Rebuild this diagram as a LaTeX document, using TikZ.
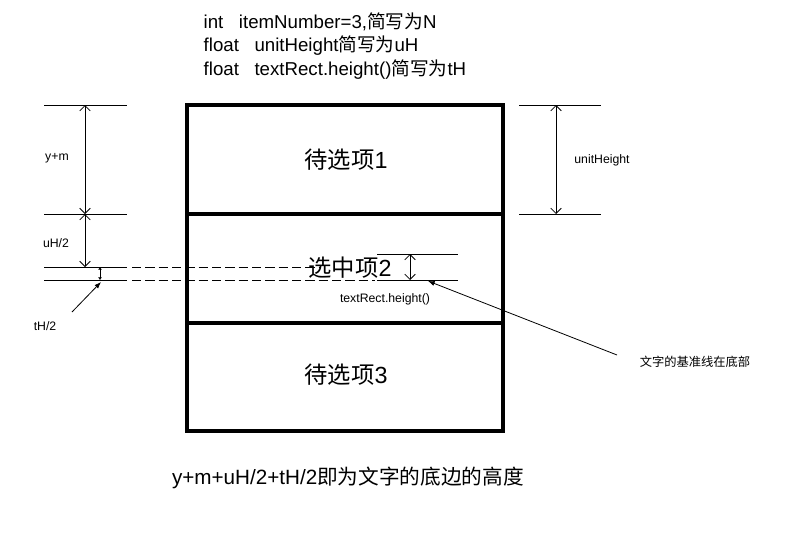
\documentclass[tikz,border=0pt]{standalone}
\usepackage{fontspec}
\setmainfont{Liberation Sans}
\newfontfamily\cjk{Noto Sans CJK SC}
\usetikzlibrary{arrows.meta}
\begin{document}
\begin{tikzpicture}[x=0.75pt,y=-0.75pt,
  box/.style={line width=3pt},
  ext/.style={line width=0.6pt},
  dim/.style={line width=0.6pt,{Straight Barb[length=4pt]}-{Straight Barb[length=4pt]}},
  lead/.style={line width=0.6pt,-{Latex[length=5pt]}},
  small/.style={font=\fontsize{9.2}{10}\selectfont},
  big/.style={font=\fontsize{17.5}{19}\selectfont},
  mid/.style={font=\fontsize{14}{16}\selectfont}]
\useasboundingbox (0,0) rectangle (792,546);
% box
\draw[box] (187,105) rectangle (503,431);
\draw[box] (187,214) -- (503,214);
\draw[box] (187,323) -- (503,323);
\node[big] (i1) at (346,160) {{\cjk 待选项}1};
\node[big] (i2) at (350,268) {{\cjk 选中项}2};
\node[big] (i3) at (346,375) {{\cjk 待选项}3};
% top text
\node[mid,anchor=west] (t1) at (199,22) {int\ \ \ itemNumber=3,{\cjk 简写为}N};
\node[mid,anchor=west] (t2) at (199,46) {float\ \ \ unitHeight{\cjk 简写为}uH};
\node[mid,anchor=west] (t3) at (199,70) {float\ \ \ textRect.height(){\cjk 简写为}tH};
% left extension lines
\coordinate (la1) at (44,105); \coordinate (lb1) at (127,105);
\coordinate (la2) at (44,214); \coordinate (lb2) at (127,214);
\coordinate (la3) at (44,267); \coordinate (lb3) at (127,267);
\coordinate (la4) at (44,280); \coordinate (lb4) at (127,280);
\draw[ext] (la1)--(lb1) (la2)--(lb2) (la3)--(lb3) (la4)--(lb4);
\coordinate (d1s) at (132,267); \coordinate (d1e) at (320,267);
\coordinate (d2s) at (132,280); \coordinate (d2e) at (375,280);
\draw[ext,dash pattern=on 7pt off 3pt] (d1s)--(d1e) (d2s)--(d2e);
\coordinate (a1) at (85,105); \coordinate (a2) at (85,214); \coordinate (a3) at (85,267);
\draw[dim] (a1)--(a2);
\draw[dim] (a2)--(a3);
\coordinate (s1) at (100,267); \coordinate (s2) at (100,280);
\draw[line width=0.6pt,{Latex[length=2pt,width=3pt]}-{Latex[length=2pt,width=3pt]}] (s1)--(s2);
\node[small] (ym) at (57,158) {y+m};
\node[small] (uh) at (56,243) {uH/2};
\node[small] (th) at (45,326) {tH/2};
\coordinate (thf) at (72,312); \coordinate (tht) at (101,282);
\draw[lead] (thf)--(tht);
% right inside
\coordinate (r1a) at (377,254); \coordinate (r1b) at (458,254);
\coordinate (r2a) at (377,280); \coordinate (r2b) at (458,280);
\draw[ext] (r1a)--(r1b) (r2a)--(r2b);
\coordinate (ra) at (410,254); \coordinate (rb) at (410,280);
\draw[dim] (ra)--(rb);
\node[small] (tr) at (385,299) {textRect.height()};
\coordinate (lf) at (617,355); \coordinate (lt) at (428,281);
\draw[lead] (lf)--(lt);
\node[small] (base) at (695,362) {\cjk 文字的基准线在底部};
% right dim
\coordinate (u1a) at (519,105); \coordinate (u1b) at (601,105);
\coordinate (u2a) at (519,214); \coordinate (u2b) at (601,214);
\draw[ext] (u1a)--(u1b) (u2a)--(u2b);
\coordinate (ua) at (556,105); \coordinate (ub) at (556,214);
\draw[dim] (ua)--(ub);
\node[small] (uht) at (602,160) {unitHeight};
% bottom
\node[font=\fontsize{15.5}{18}\selectfont] (bot) at (348,478) {y+m+uH/2+tH/2{\cjk 即为文字的底边的高度}};
\end{tikzpicture}
\end{document}
